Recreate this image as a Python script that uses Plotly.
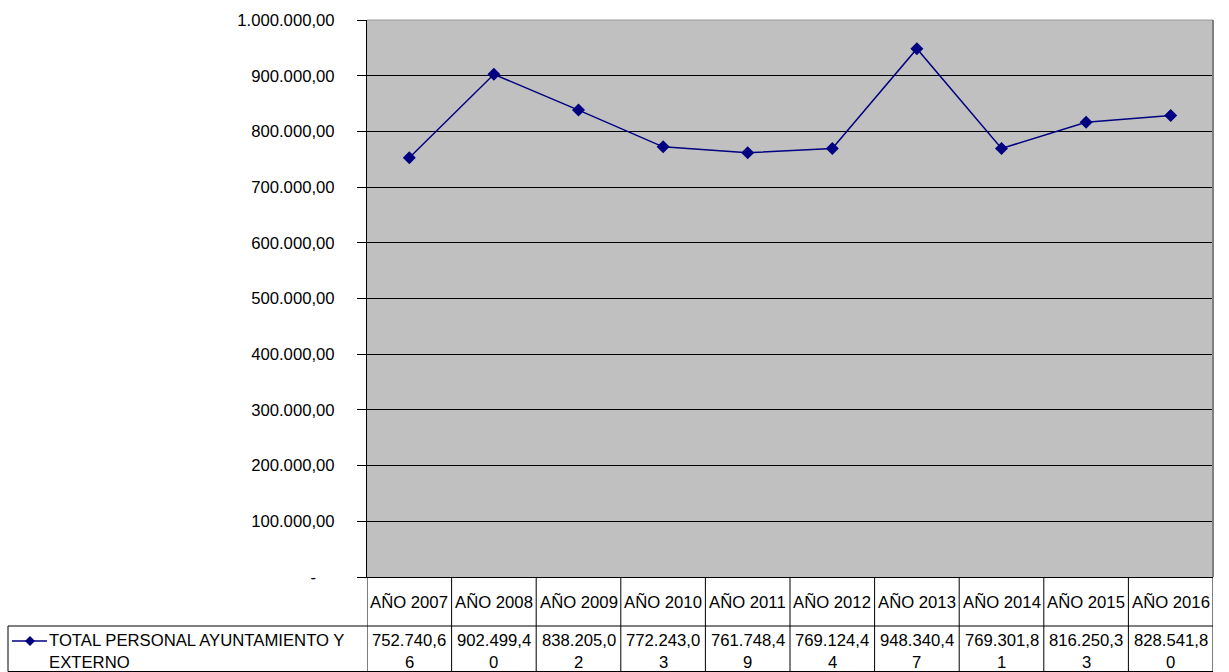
import plotly.graph_objects as go

categories = ["AÑO 2007", "AÑO 2008", "AÑO 2009", "AÑO 2010", "AÑO 2011",
              "AÑO 2012", "AÑO 2013", "AÑO 2014", "AÑO 2015", "AÑO 2016"]
values = [752740.66, 902499.40, 838205.02, 772243.03, 761748.49,
          769124.44, 948340.47, 769301.81, 816250.33, 828541.80]
series_name = "TOTAL PERSONAL AYUNTAMIENTO Y EXTERNO"
series_lines = ["TOTAL PERSONAL AYUNTAMIENTO Y", "EXTERNO"]
tick_vals = [0, 100000, 200000, 300000, 400000, 500000, 600000, 700000, 800000, 900000, 1000000]
tick_text = ["-\u00a0\u00a0\u00a0\u00a0", "100.000,00", "200.000,00", "300.000,00", "400.000,00",
             "500.000,00", "600.000,00", "700.000,00", "800.000,00", "900.000,00", "1.000.000,00"]

W, H = 1229, 672
L, R, T, B = 367, 1213, 20, 577
FONT = "Liberation Sans, Arial, sans-serif"
FS = 16.7
NAVY = "#000080"


def fmt_es(v):
    s = f"{v:,.2f}"
    return s.replace(",", "X").replace(".", ",").replace("X", ".")


def px2x(p):
    return (p - L) / (R - L)


def px2y(p):
    return (B - p) / (B - T)


fig = go.Figure()
fig.add_trace(go.Scatter(
    x=categories, y=values, mode="lines+markers", name=series_name,
    line=dict(color=NAVY, width=1.5),
    marker=dict(symbol="diamond", size=10, color=NAVY),
    showlegend=False,
))

shapes = []
annotations = []
line_col = "#000000"

n = len(categories)
for i in range(n + 1):
    shapes.append(dict(type="line", xref="x", yref="paper", x0=i - 0.5, x1=i - 0.5,
                       y0=px2y(B), y1=px2y(671.5), line=dict(color=line_col, width=1)))
for yy in (626, 671.5):
    shapes.append(dict(type="line", xref="paper", yref="paper", x0=px2x(8), x1=1,
                       y0=px2y(yy), y1=px2y(yy), line=dict(color=line_col, width=1)))
shapes.append(dict(type="line", xref="paper", yref="paper", x0=px2x(8), x1=px2x(8),
                   y0=px2y(626), y1=px2y(671.5), line=dict(color=line_col, width=1)))
shapes.append(dict(type="line", xref="paper", yref="paper", x0=0, x1=1, y0=1, y1=1,
                   line=dict(color="#9a9a9a", width=1)))
shapes.append(dict(type="line", xref="paper", yref="paper", x0=1, x1=1, y0=0, y1=1,
                   line=dict(color="#808080", width=2)))

ly = 641
shapes.append(dict(type="line", xref="paper", yref="paper", x0=px2x(12), x1=px2x(47),
                   y0=px2y(ly), y1=px2y(ly), line=dict(color=NAVY, width=1.5)))
cx, d = 30, 5
path = (f"M {px2x(cx - d)},{px2y(ly)} L {px2x(cx)},{px2y(ly - d)} "
        f"L {px2x(cx + d)},{px2y(ly)} L {px2x(cx)},{px2y(ly + d)} Z")
shapes.append(dict(type="path", xref="paper", yref="paper", path=path,
                   fillcolor=NAVY, line=dict(color=NAVY, width=0)))

font = dict(family=FONT, size=FS, color="#000000")
for i, cat in enumerate(categories):
    annotations.append(dict(x=i, y=px2y(602), xref="x", yref="paper", text=cat,
                            showarrow=False, font=font, xanchor="center", yanchor="middle"))
    s = fmt_es(values[i])
    annotations.append(dict(x=i, y=px2y(641), xref="x", yref="paper", text=s[:9],
                            showarrow=False, font=font, xanchor="center", yanchor="middle"))
    annotations.append(dict(x=i, y=px2y(662), xref="x", yref="paper", text=s[9:],
                            showarrow=False, font=font, xanchor="center", yanchor="middle"))

for k, t in enumerate(series_lines):
    annotations.append(dict(x=px2x(47), y=px2y(641 + 21 * k), xref="paper", yref="paper",
                            text=t, showarrow=False, font=font,
                            xanchor="left", yanchor="middle"))

fig.update_layout(
    width=W, height=H,
    margin=dict(l=L, r=W - R, t=T, b=H - B, pad=0),
    paper_bgcolor="#ffffff", plot_bgcolor="#c0c0c0",
    font=font,
    xaxis=dict(type="category", range=[-0.5, n - 0.5], showticklabels=False,
               showgrid=False, zeroline=False, showline=True, linecolor="#000000",
               linewidth=1, ticks=""),
    yaxis=dict(range=[0, 1000000], tickvals=tick_vals, ticktext=tick_text,
               showgrid=True, gridcolor="#000000", gridwidth=1, zeroline=False,
               showline=True, linecolor="#000000", linewidth=1,
               ticks="outside", ticklen=9, tickcolor="#000000",
               ticklabelstandoff=19, tickfont=font),
    shapes=shapes, annotations=annotations,
)

fig.write_html("out.html")
